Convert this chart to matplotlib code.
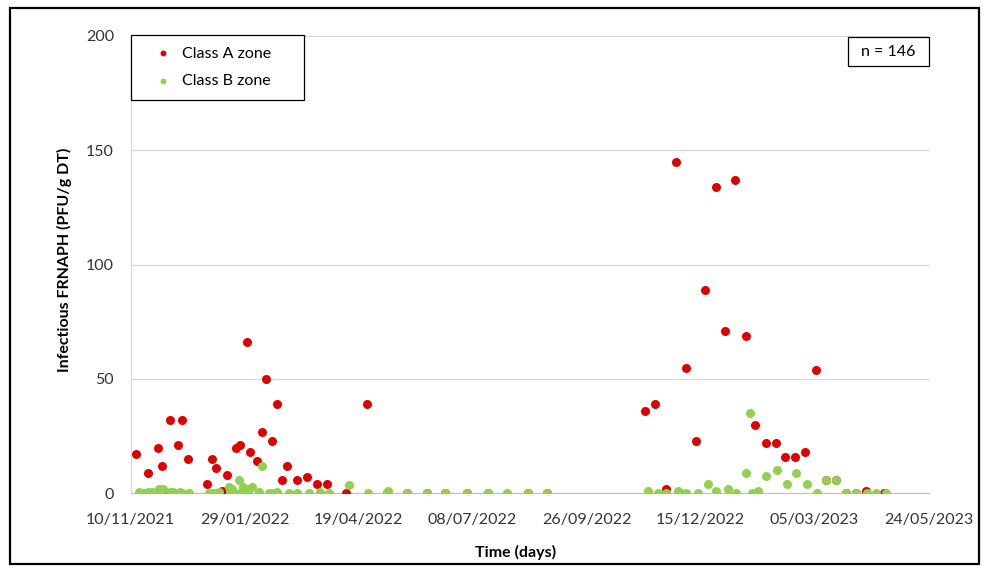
import matplotlib as mpl
mpl.use("Agg")
import matplotlib.pyplot as plt
import matplotlib.dates as mdates
import matplotlib.patches as mpatches
import pandas as pd


# Class A zone samples (date, PFU/g DT)
classADates = ["2021-11-14", "2021-11-18", "2021-11-22", "2021-11-29", "2021-12-02",
               "2021-12-06", "2021-12-08", "2021-12-13", "2021-12-16", "2021-12-20",
               "2022-01-03", "2022-01-06", "2022-01-09", "2022-01-13", "2022-01-17",
               "2022-01-23", "2022-01-26", "2022-01-31", "2022-02-02", "2022-02-07",
               "2022-02-10", "2022-02-13", "2022-02-17", "2022-02-21", "2022-02-24",
               "2022-02-28", "2022-03-07", "2022-03-14", "2022-03-21", "2022-03-28",
               "2022-04-10", "2022-04-25", "2022-05-09", "2022-05-23", "2022-06-06",
               "2022-06-19", "2022-07-04", "2022-07-19", "2022-08-16", "2022-08-29",
               "2022-11-06", "2022-11-13", "2022-11-21", "2022-11-28", "2022-12-05",
               "2022-12-12", "2022-12-18", "2022-12-26", "2023-01-01", "2023-01-08",
               "2023-01-16", "2023-01-22", "2023-01-30", "2023-02-06", "2023-02-12",
               "2023-02-19", "2023-02-26", "2023-03-06", "2023-03-13", "2023-03-20",
               "2023-03-27", "2023-04-03", "2023-04-10", "2023-04-23"]
classAValues = [17, 0, 9, 20, 12, 0, 32, 21, 32, 15,
                4, 15, 11, 1, 8, 20, 21, 66, 18, 14,
                27, 50, 23, 39, 6, 12, 6, 7, 4, 4,
                0, 39, 0, 0, 0, 0, 0, 0, 0, 0,
                36, 39, 2, 145, 55, 23, 89, 134, 71, 137,
                69, 30, 22, 22, 16, 16, 18, 54, 6, 6,
                0, 0, 1, 0]

# Class B zone samples (date, PFU/g DT)
classBDates = ["2021-11-16", "2021-11-19", "2021-11-22", "2021-11-25", "2021-11-30",
               "2021-12-03", "2021-12-08", "2021-12-10", "2021-12-15", "2021-12-16",
               "2021-12-21", "2022-01-04", "2022-01-06", "2022-01-09", "2022-01-11",
               "2022-01-18", "2022-01-19", "2022-01-20", "2022-01-21", "2022-01-25",
               "2022-01-26", "2022-01-28", "2022-01-30", "2022-02-01", "2022-02-03",
               "2022-02-08", "2022-02-10", "2022-02-15", "2022-02-18", "2022-02-21",
               "2022-03-01", "2022-03-07", "2022-03-15", "2022-03-23", "2022-03-29",
               "2022-04-12", "2022-04-26", "2022-05-09", "2022-05-10", "2022-05-23",
               "2022-06-06", "2022-06-19", "2022-07-04", "2022-07-19", "2022-08-01",
               "2022-08-16", "2022-08-29", "2022-11-08", "2022-11-15", "2022-11-21",
               "2022-11-29", "2022-12-01", "2022-12-05", "2022-12-13", "2022-12-20",
               "2022-12-26", "2023-01-03", "2023-01-09", "2023-01-16", "2023-01-19",
               "2023-01-20", "2023-01-24", "2023-01-30", "2023-02-07", "2023-02-14",
               "2023-02-20", "2023-02-28", "2023-03-07", "2023-03-13", "2023-03-20",
               "2023-03-27", "2023-04-03", "2023-04-11", "2023-04-17", "2023-04-24"]
classBValues = [0.7, 0, 0.7, 0.7, 2, 2, 0.7, 0.7, 0.7, 0,
                0, 0, 0, 0, 0.7, 2.8, 0.7, 2, 0, 5.7,
                0, 2.8, 1.3, 2, 2.8, 0.7, 12, 0, 0, 0.7,
                0, 0, 0, 0.7, 0, 3.8, 0, 0, 0.9, 0,
                0, 0, 0, 0, 0, 0, 0, 0.9, 0, 0,
                0.9, 0, 0, 0, 4, 0.9, 2, 0, 9, 35,
                0, 0.9, 7.6, 10, 4, 9, 4, 0, 6, 6,
                0, 0, 0, 0, 0]

sampleCount = 146
xTickDates = pd.date_range("2021-11-10", "2023-05-24", freq="80D")
yTicks = [0, 50, 100, 150, 200]

colorA = "#DD0000"
colorB = "#92D050"


def drawChart():
    plt.rcParams["font.family"] = ["Lato", "DejaVu Sans"]

    fig = plt.figure(figsize=(9.86, 5.69), dpi=100)
    ax = fig.add_axes([130.5 / 986, 75.7 / 569, 798 / 986, 457.3 / 569])

    ax.scatter(pd.to_datetime(classADates), classAValues, s=42, color=colorA,
               linewidths=0, zorder=3, label="Class A zone")
    ax.scatter(pd.to_datetime(classBDates), classBValues, s=42, color=colorB,
               linewidths=0, zorder=4, label="Class B zone")

    ax.set_xlim(xTickDates[0], xTickDates[-1])
    ax.set_ylim(0, 200)
    ax.set_xticks(xTickDates)
    ax.xaxis.set_major_formatter(mdates.DateFormatter("%d/%m/%Y"))
    ax.set_yticks(yTicks)

    ax.tick_params(axis="both", length=0, labelsize=11.5, colors="#333333")
    ax.tick_params(axis="x", pad=14)
    ax.tick_params(axis="y", pad=12)

    ax.grid(axis="y", color="#D9D9D9", linewidth=0.9)
    ax.set_axisbelow(True)
    for side in ["top", "right"]:
        ax.spines[side].set_visible(False)
    #end-for
    ax.spines["left"].set_color("#D9D9D9")
    ax.spines["bottom"].set_color("#BFBFBF")

    ax.set_ylabel("Infectious FRNAPH (PFU/g DT)", fontsize=11.5, fontweight="bold")
    ax.yaxis.set_label_coords(-0.073, 0.51)
    ax.set_xlabel("Time (days)", fontsize=11.5, fontweight="bold")
    ax.xaxis.set_label_coords(0.482, -0.112)

    # legend box stretched to a fixed width at the top-left corner
    leg = ax.legend(loc="upper left", bbox_to_anchor=(0, 0.9, 0.217, 0.103), mode="expand",
                    borderaxespad=0, fancybox=False, edgecolor="black", framealpha=1,
                    fontsize=11.5, markerscale=0.65, handletextpad=-0.1,
                    labelspacing=0.84, borderpad=0.74, handlelength=2.6)
    leg.get_frame().set_linewidth(0.9)

    # sample size box, top right
    ax.add_patch(mpatches.Rectangle((0.899, 0.934), 0.101, 0.064, transform=ax.transAxes,
                                    facecolor="white", edgecolor="black", linewidth=0.9,
                                    zorder=5, clip_on=False))
    ax.text(0.9495, 0.966, f"n = {sampleCount}", transform=ax.transAxes, ha="center",
            va="center", fontsize=11.5, zorder=6)

    # outer frame round the figure
    fig.add_artist(mpatches.Rectangle((10 / 986, 5 / 569), 969 / 986, 556 / 569,
                                      transform=fig.transFigure, fill=False,
                                      edgecolor="black", linewidth=1.6))

    plt.savefig("out.png", dpi=100)
#end-def


if __name__ == "__main__":
    drawChart()
#end-if-else
